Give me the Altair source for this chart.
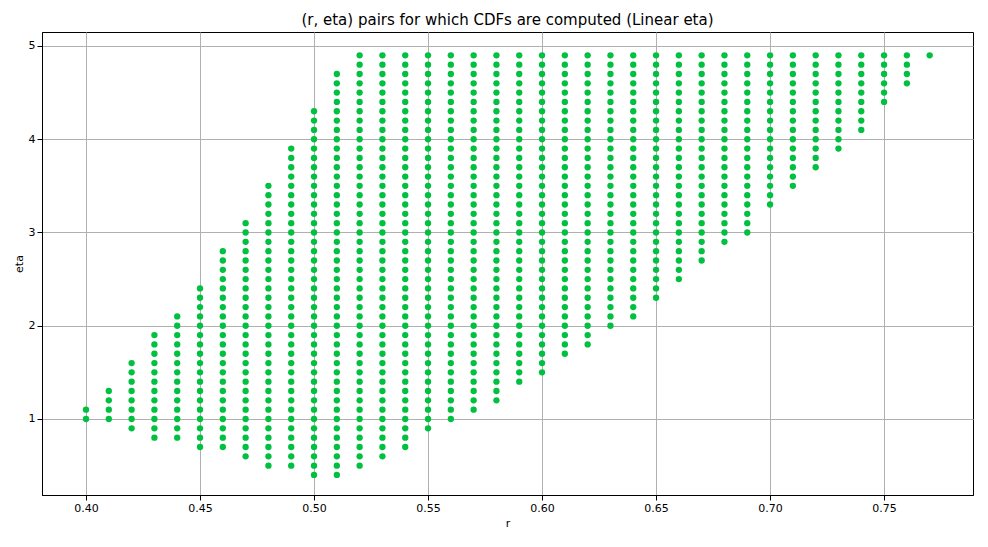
import altair as alt
import pandas as pd

r_vals = [0.40,0.41,0.42,0.43,0.44,0.45,0.46,0.47,0.48,0.49,0.50,0.51,0.52,0.53,0.54,0.55,0.56,0.57,0.58,0.59,
          0.60,0.61,0.62,0.63,0.64,0.65,0.66,0.67,0.68,0.69,0.70,0.71,0.72,0.73,0.74,0.75,0.76,0.77]
eta_min = [1.0,1.0,0.9,0.8,0.8,0.7,0.7,0.6,0.5,0.5,0.4,0.4,0.5,0.6,0.7,0.9,1.0,1.1,1.2,1.4,
           1.5,1.7,1.8,2.0,2.1,2.3,2.5,2.7,2.9,3.0,3.3,3.5,3.7,3.9,4.1,4.4,4.6,4.9]
eta_max = [1.1,1.3,1.6,1.9,2.1,2.4,2.8,3.1,3.5,3.9,4.3,4.7,4.9,4.9,4.9,4.9,4.9,4.9,4.9,4.9,
           4.9,4.9,4.9,4.9,4.9,4.9,4.9,4.9,4.9,4.9,4.9,4.9,4.9,4.9,4.9,4.9,4.9,4.9]

rows = []
for r, lo, hi in zip(r_vals, eta_min, eta_max):
    k = int(round(lo * 10))
    while k <= int(round(hi * 10)):
        rows.append({"r": r, "eta": k / 10})
        k += 1
df = pd.DataFrame(rows)

chart = alt.Chart(df).mark_circle(size=40, color="#00c040", opacity=1).encode(
    x=alt.X("r:Q", scale=alt.Scale(domain=[0.3807, 0.789], nice=False, zero=False),
            axis=alt.Axis(values=[0.40,0.45,0.50,0.55,0.60,0.65,0.70,0.75], format=".2f", title="r")),
    y=alt.Y("eta:Q", scale=alt.Scale(domain=[0.185, 5.15], nice=False, zero=False),
            axis=alt.Axis(values=[1,2,3,4,5], title="eta")),
).properties(
    width=931, height=463,
    title=alt.TitleParams("(r, eta) pairs for which CDFs are computed (Linear eta)", fontSize=15, fontWeight="normal", font="DejaVu Sans")
).configure_axis(
    gridColor="#b0b0b0", gridOpacity=1, domainColor="black", tickColor="black",
    labelFont="DejaVu Sans", titleFont="DejaVu Sans", labelFontSize=11, titleFontSize=11,
    titleFontWeight="normal", labelColor="black", titleColor="black"
).configure_view(stroke="black")

chart.save("out.html", embed_options={"renderer": "svg", "actions": False})
